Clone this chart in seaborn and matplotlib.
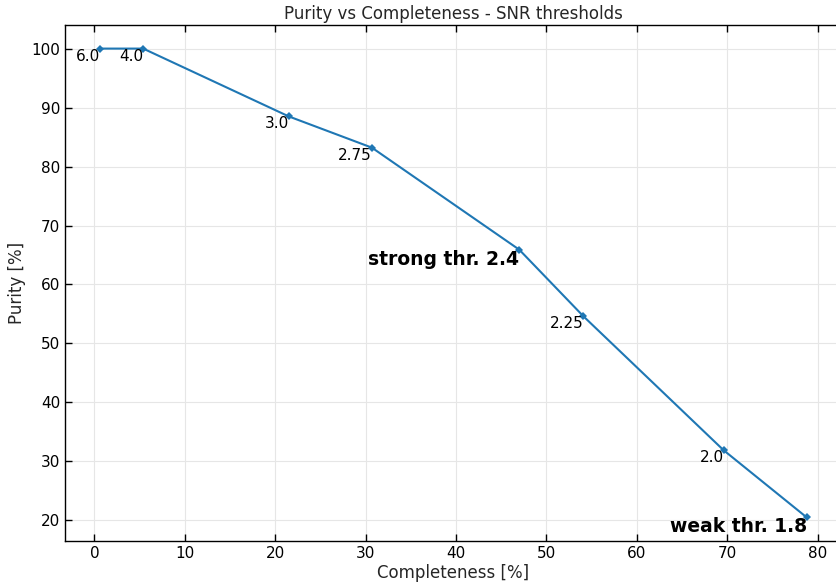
import matplotlib
matplotlib.use("Agg")
import matplotlib.pyplot as plt
import seaborn as sns
import pandas as pd

completeness = [0.66, 5.4, 21.5, 30.7, 47.0, 54.1, 69.6, 78.8]
purity = [100.0, 100.0, 88.5, 83.2, 65.9, 54.6, 31.9, 20.5]
labels = ["6.0", "4.0", "3.0", "2.75", "strong thr. 2.4", "2.25", "2.0", "weak thr. 1.8"]
bold = [False, False, False, False, True, False, False, True]

sns.set_theme(style="whitegrid")
plt.rcParams['font.family'] = ['DejaVu Sans']

df = pd.DataFrame({"Completeness": completeness, "Purity": purity})

fig = plt.figure(figsize=(8.37, 5.86), dpi=100)
ax = fig.add_axes([65/837, (586-541)/586, (842-65)/837, (541-25)/586])

sns.lineplot(data=df, x="Completeness", y="Purity", ax=ax, color="#1f77b4",
             marker="D", markersize=4, markeredgewidth=0, linewidth=1.5)

for x, y, lab, b in zip(completeness, purity, labels, bold):
    ax.text(x, y, lab, ha="right", va="top",
            fontsize=13.5 if b else 11,
            fontweight="bold" if b else "normal", color="black")

ax.set_xlim(-3.25, 82.7)
ax.set_ylim(16.5, 104)
ax.set_xticks(range(0, 81, 10))
ax.set_yticks(range(20, 101, 10))
ax.set_xlabel("Completeness [%]", fontsize=12, labelpad=2)
ax.set_ylabel("Purity [%]", fontsize=12)
ax.set_title("Purity vs Completeness - SNR thresholds", fontsize=12, pad=4)
ax.tick_params(direction="in", length=5, width=1, colors="black", labelsize=11,
               top=True, right=False, bottom=True, left=True)
ax.grid(True, color="#e6e6e6", linewidth=0.8)
for s in ax.spines.values():
    s.set_color("black")
    s.set_linewidth(1.0)
ax.spines["right"].set_visible(False)
ax.set_facecolor("white")

fig.savefig("out.png", dpi=100)
